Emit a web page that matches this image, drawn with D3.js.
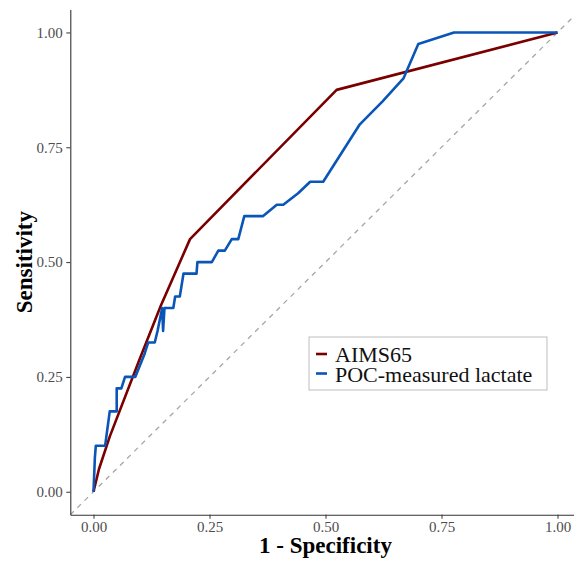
<!DOCTYPE html>
<html>
<head>
<meta charset="utf-8">
<script src="https://d3js.org/d3.v7.min.js"></script>
<style>
  body { margin: 0; background: #fff; }
  svg { display: block; }
</style>
</head>
<body>
<div id="chart"></div>
<script>
// ROC data
const aimsFpr = [0, 0.012, 0.035, 0.10, 0.145, 0.208, 0.524, 1];
const aimsTpr = [0, 0.05, 0.12, 0.29, 0.405, 0.55, 0.875, 1];

const lactFpr = [0, 0.003, 0.005, 0.025, 0.035, 0.05, 0.05, 0.06, 0.068, 0.09, 0.10, 0.11, 0.118, 0.132, 0.138,
  0.148, 0.150, 0.153, 0.172, 0.176, 0.186, 0.194, 0.222, 0.224, 0.255, 0.269, 0.283, 0.298, 0.312, 0.325,
  0.365, 0.395, 0.409, 0.441, 0.467, 0.495, 0.574, 0.623, 0.668, 0.70, 0.777, 1];
const lactTpr = [0, 0.075, 0.10, 0.10, 0.175, 0.175, 0.225, 0.225, 0.25, 0.25, 0.275, 0.30, 0.325, 0.325, 0.35,
  0.40, 0.35, 0.40, 0.40, 0.425, 0.425, 0.475, 0.475, 0.50, 0.50, 0.525, 0.525, 0.55, 0.55, 0.60,
  0.60, 0.625, 0.625, 0.65, 0.675, 0.675, 0.80, 0.85, 0.90, 0.975, 1, 1];

const seriesNames = ['AIMS65', 'POC-measured lactate'];
const seriesColors = ['#7a0000', '#0a56b8'];
const tickValues = [0, 0.25, 0.5, 0.75, 1];

const width = 574, height = 561;
const font = '"Liberation Serif", "Times New Roman", serif';

const x = d3.scaleLinear().domain([-0.05, 1.05]).range([70.3, 580.7]);
const y = d3.scaleLinear().domain([-0.05, 1.05]).range([514.7, 9.5]);

const svg = d3.select('#chart').append('svg')
  .attr('width', width)
  .attr('height', height)
  .attr('xmlns', 'http://www.w3.org/2000/svg');

svg.append('defs').append('clipPath').attr('id', 'panel')
  .append('rect')
  .attr('x', x(-0.05)).attr('y', y(1.05))
  .attr('width', x(1.05) - x(-0.05))
  .attr('height', y(-0.05) - y(1.05));

const plot = svg.append('g').attr('clip-path', 'url(#panel)');

// reference diagonal
plot.append('line')
  .attr('x1', x(-0.05)).attr('y1', y(-0.05))
  .attr('x2', x(1.05)).attr('y2', y(1.05))
  .attr('stroke', '#a6a6a6')
  .attr('stroke-width', 1.3)
  .attr('stroke-dasharray', '5,5');

const line = d3.line().x(d => x(d[0])).y(d => y(d[1]));
const series = [
  d3.zip(aimsFpr, aimsTpr),
  d3.zip(lactFpr, lactTpr)
];

series.forEach((pts, i) => {
  plot.append('path')
    .datum(pts)
    .attr('d', line)
    .attr('fill', 'none')
    .attr('stroke', seriesColors[i])
    .attr('stroke-width', 2.6)
    .attr('stroke-linejoin', 'round');
});

// axes
const xAxis = svg.append('g')
  .attr('transform', `translate(0,${y(-0.05)})`)
  .call(d3.axisBottom(x).tickValues(tickValues).tickFormat(d3.format('.2f'))
    .tickSizeInner(4).tickSizeOuter(0).tickPadding(3));

const yAxis = svg.append('g')
  .attr('transform', `translate(${x(-0.05)},0)`)
  .call(d3.axisLeft(y).tickValues(tickValues).tickFormat(d3.format('.2f'))
    .tickSizeInner(4).tickSizeOuter(0).tickPadding(3.5));

[xAxis, yAxis].forEach(ax => {
  ax.select('.domain').attr('stroke', '#333').attr('stroke-width', 1.1);
  ax.selectAll('.tick line').attr('stroke', '#333');
  ax.selectAll('.tick text')
    .attr('fill', '#4d4d4d')
    .style('font-family', font)
    .style('font-size', '15px');
});

// axis titles
svg.append('text')
  .attr('x', (x(-0.05) + x(1.05)) / 2)
  .attr('y', 553)
  .attr('text-anchor', 'middle')
  .style('font-family', font)
  .style('font-size', '23px')
  .style('font-weight', 'bold')
  .text('1 - Specificity');

svg.append('text')
  .attr('transform', `translate(32,${(y(-0.05) + y(1.05)) / 2}) rotate(-90)`)
  .attr('text-anchor', 'middle')
  .style('font-family', font)
  .style('font-size', '23px')
  .style('font-weight', 'bold')
  .text('Sensitivity');

// legend
const legend = svg.append('g').attr('transform', 'translate(309,337)');
legend.append('rect')
  .attr('width', 238)
  .attr('height', 53)
  .attr('fill', '#fff')
  .attr('stroke', '#bdbdbd')
  .attr('stroke-width', 1);

seriesNames.forEach((name, i) => {
  const row = legend.append('g').attr('transform', `translate(0,${17 + i * 19.5})`);
  row.append('line')
    .attr('x1', 7).attr('x2', 18)
    .attr('y1', 0).attr('y2', 0)
    .attr('stroke', seriesColors[i])
    .attr('stroke-width', 2.6);
  row.append('text')
    .attr('x', 26)
    .attr('y', 8)
    .style('font-family', font)
    .style('font-size', '22px')
    .attr('fill', '#111')
    .text(name);
});
</script>
</body>
</html>
